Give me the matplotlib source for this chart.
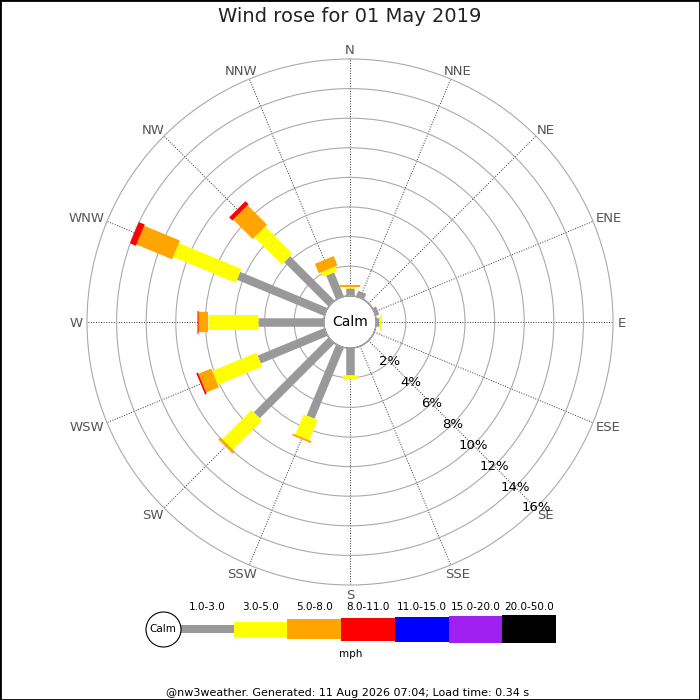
import numpy as np
import matplotlib
matplotlib.use('Agg')
import matplotlib.pyplot as plt
from matplotlib.patches import Rectangle

# ---------------- data ----------------
directions = ['N', 'NNE', 'NE', 'ENE', 'E', 'ESE', 'SE', 'SSE',
              'S', 'SSW', 'SW', 'WSW', 'W', 'WNW', 'NW', 'NNW']
speed_bins = ['1.0-3.0', '3.0-5.0', '5.0-8.0', '8.0-11.0',
              '11.0-15.0', '15.0-20.0', '20.0-50.0']
#            N     NNE   NE   ENE   E     ESE  SE   SSE  S     SSW   SW    WSW   W     WNW   NW    NNW
pct_1_3   = [0.52, 0.40, 0.0, 0.25, 0.22, 0.0, 0.0, 0.0, 1.82, 5.19, 7.14, 4.87, 4.44, 6.38, 4.23, 1.74]
pct_3_5   = [0.10, 0.0,  0.0, 0.0,  0.12, 0.0, 0.0, 0.0, 0.28, 1.48, 2.79, 3.23, 3.38, 4.57, 2.61, 0.34]
pct_5_8   = [0.10, 0.0,  0.0, 0.0,  0.0,  0.0, 0.0, 0.0, 0.0,  0.13, 0.20, 0.93, 0.67, 2.61, 1.86, 0.69]
pct_8_11  = [0.0,  0.0,  0.0, 0.0,  0.0,  0.0, 0.0, 0.0, 0.0,  0.0,  0.0,  0.12, 0.11, 0.44, 0.30, 0.0]
pct_11_15 = [0.0] * 16
pct_15_20 = [0.0] * 16
pct_20_50 = [0.0] * 16
ring_ticks = [2, 4, 6, 8, 10, 12, 14, 16]
title = 'Wind rose for 01 May 2019'
unit_label = 'mph'
footer = '@nw3weather. Generated: 11 Aug 2026 07:04; Load time: 0.34 s'

# ---------------- style ----------------
colors = ['#999999', '#ffff00', '#ffa500', '#ff0000', '#0000ff', '#a020f0', '#000000']
bar_px = [8.5, 15, 20.3, 23, 25, 27, 28.3]   # bar thickness in pixels
PT = 0.72  # points per pixel at dpi 100

fig = plt.figure(figsize=(7, 7), dpi=100)
fig.add_artist(Rectangle((0, 0), 1, 1, transform=fig.transFigure, fill=False,
                         edgecolor='black', lw=2))

fig.text(0.5, 1 - 17 / 700, title, ha='center', va='center', fontsize=14, color='#222222')

# ---------------- rose ----------------
R = 263.0
cx, cy = 350.0, 322.0
ax = fig.add_axes([(cx - R) / 700, (700 - cy - R) / 700, 2 * R / 700, 2 * R / 700],
                  projection='polar')
ax.set_theta_zero_location('N')
ax.set_theta_direction(-1)
ax.set_ylim(0, 16)
ax.set_rorigin(-1.77)
ax.set_facecolor('none')

angles_deg = np.arange(16) * 22.5
theta = np.deg2rad(angles_deg)
ax.set_thetagrids(angles_deg, [''] * 16)
ax.set_rgrids(ring_ticks[:-1], labels=[''] * (len(ring_ticks) - 1))
ax.yaxis.grid(True, color='#aaaaaa', lw=0.8, ls='-')
ax.xaxis.grid(True, color='#333333', lw=0.7, ls=(0, (1, 1.6)))
ax.spines['polar'].set_color('#aaaaaa')
ax.spines['polar'].set_linewidth(0.8)
if 'inner' in ax.spines:
    ax.spines['inner'].set_visible(False)

# direction labels just outside the outer ring
renderer = fig.canvas.get_renderer()
for t, lab in zip(theta, directions):
    txt = ax.annotate(lab, xy=(t, 16), xytext=(0, 0), textcoords='offset pixels',
                      ha='center', va='baseline', fontsize=9.5, color='#555555',
                      annotation_clip=False)
    w = txt.get_window_extent(renderer).width
    ox = np.sin(t) * (4.5 + w / 2)
    oy = np.cos(t) * 9.5 - 4.7
    txt.xyann = (ox, oy)

bins = [pct_1_3, pct_3_5, pct_5_8, pct_8_11, pct_11_15, pct_15_20, pct_20_50]
cum = np.zeros(16)
for vals, c, w in zip(bins, colors, bar_px):
    vals = np.asarray(vals, dtype=float)
    for t, r0, v in zip(theta, cum, vals):
        if v > 0:
            ax.plot([t, t], [r0, r0 + v], color=c, lw=w * PT,
                    solid_capstyle='butt', zorder=3)
    cum += vals

circ = np.linspace(0, 2 * np.pi, 361)
ax.plot(circ, np.zeros_like(circ), color='#aaaaaa', lw=0.9, clip_on=False, zorder=4)
ax.text(0.5, 0.5, 'Calm', transform=ax.transAxes, ha='center', va='center',
        fontsize=10, color='black', zorder=5)

for r in ring_ticks:
    ax.text(np.deg2rad(135), r, f'{r}%', ha='center', va='center',
            fontsize=9.5, color='black', zorder=5)

# ---------------- legend ----------------
unit = 53.7
lg = fig.add_axes([140 / 700, 35 / 700, 420 / 700, 70 / 700])
lg.axis('off')
lg.set_xlim(-40 / unit, 380 / unit)
lg.set_ylim(-35.8, 34.2)
leg_x = np.arange(len(speed_bins))
heights = np.array(bar_px)
lg.bar(leg_x, heights, width=1, bottom=-heights / 2, align='edge', color=colors)
for i, lab in enumerate(speed_bins):
    lg.text(i + 0.5, 22, lab, ha='center', va='center', fontsize=7.5)
calm_x = -17 / unit
lg.scatter([calm_x], [0], s=(35 * PT) ** 2, facecolor='white', edgecolor='black',
           lw=0.8, zorder=5)
lg.text(calm_x, 0, 'Calm', ha='center', va='center', fontsize=7.5, zorder=6)

fig.text(350.7 / 700, 1 - 654 / 700, unit_label, ha='center', va='center', fontsize=7.5)
fig.text(348 / 700, 1 - 692.5 / 700, footer, ha='center', va='center', fontsize=8)

fig.savefig('out.png', dpi=100)
